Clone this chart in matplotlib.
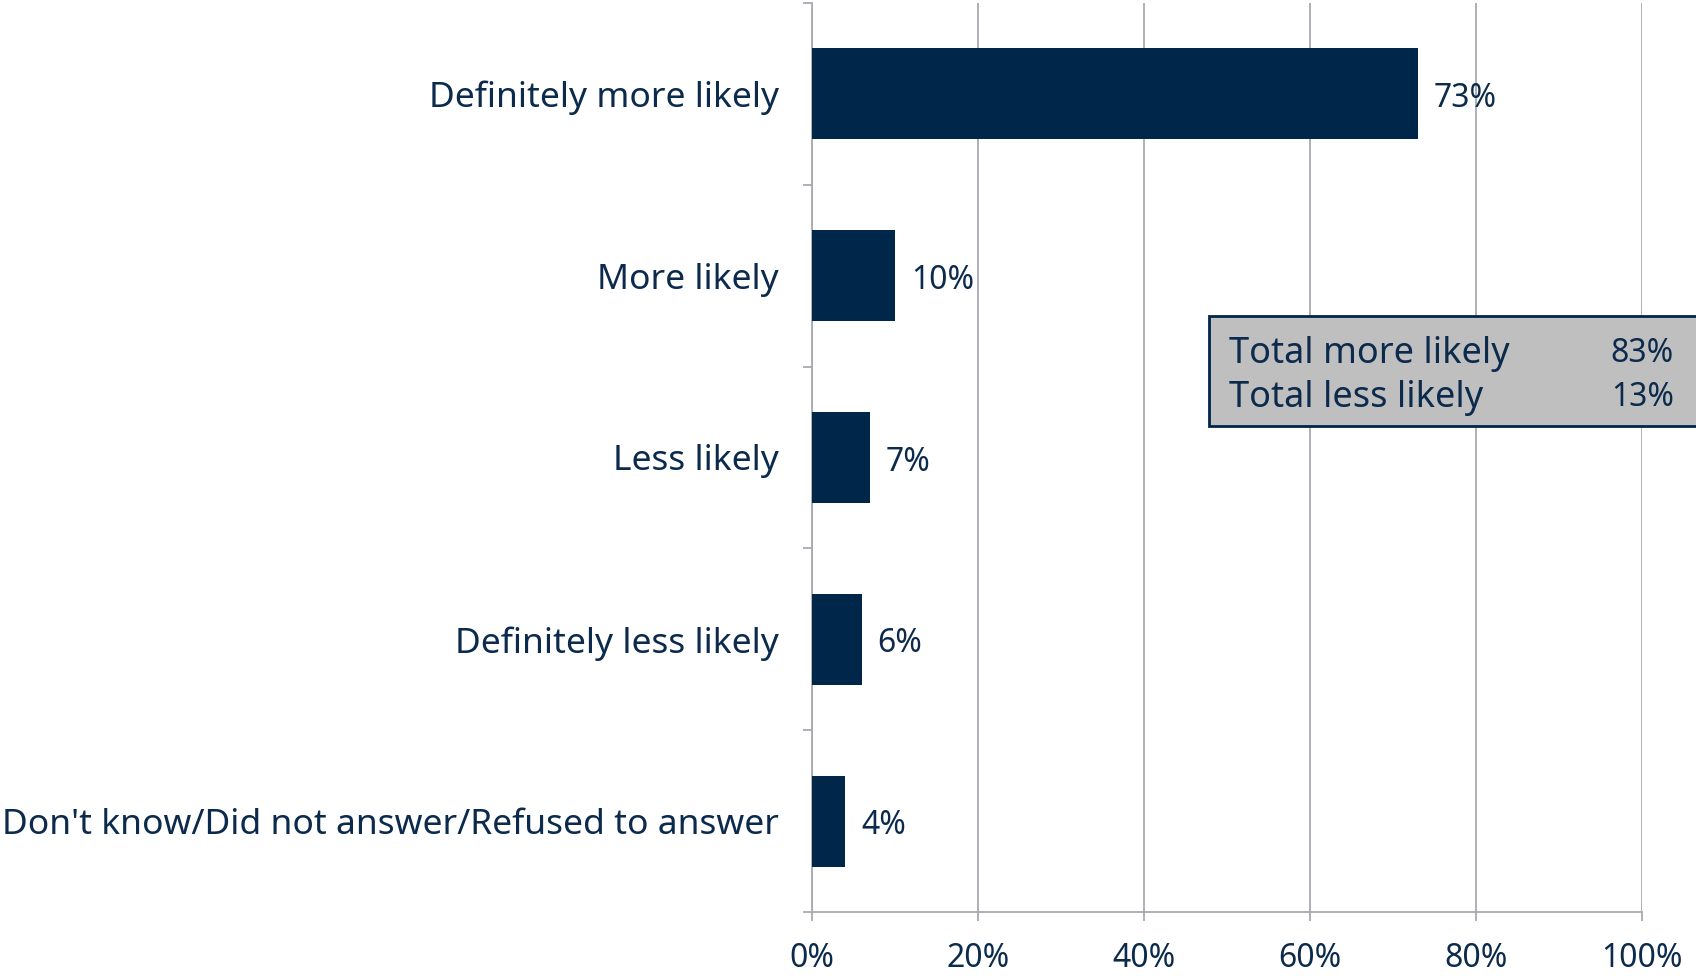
import matplotlib
matplotlib.use("Agg")
import matplotlib.pyplot as plt
from matplotlib.ticker import FixedLocator, PercentFormatter
from matplotlib.patches import Rectangle

categories = ["Definitely more likely", "More likely", "Less likely",
              "Definitely less likely", "Don't know/Did not answer/Refused to answer"]
values = [73, 10, 7, 6, 4]
xticks = [0, 20, 40, 60, 80, 100]
summary_labels = ["Total more likely", "Total less likely"]
summary_values = ["83%", "13%"]

NAVY = "#00264A"
TEXT = "#0B2A4C"
GRID = "#A9A9B0"

plt.rcParams['font.family'] = ['Noto Sans', 'DejaVu Sans']

fig = plt.figure(figsize=(16.96, 9.76), dpi=100)
ax = fig.add_axes([812/1696, 1-912/976, (1642-812)/1696, (912-3)/976])

y = list(range(len(categories)))
ax.barh(y, values, height=0.5, color=NAVY, zorder=3)
for yi, v in zip(y, values):
    ax.text(v + 1.9, yi + 0.025, f"{v}%", va="center", ha="left", fontsize=23, color=TEXT)

ax.set_xlim(0, 100)
ax.set_ylim(len(categories) - 0.5, -0.5)
ax.set_xticks(xticks)
ax.xaxis.set_major_formatter(PercentFormatter(decimals=0))
ax.grid(axis="x", color=GRID, linewidth=1.3, zorder=0)

ax.set_yticks(y)
ax.set_yticklabels(categories)
ax.yaxis.set_minor_locator(FixedLocator([i - 0.5 for i in range(len(categories) + 1)]))
ax.tick_params(axis="y", which="major", length=0, pad=24, labelsize=25.5, labelcolor=TEXT)
ax.tick_params(axis="y", which="minor", length=6.5, width=1.3, color=GRID)
ax.tick_params(axis="x", which="major", length=6.5, width=1.3, color=GRID, pad=15,
               labelsize=23, labelcolor=TEXT)

for s in ["top", "right"]:
    ax.spines[s].set_visible(False)
for s in ["left", "bottom"]:
    ax.spines[s].set_color(GRID)
    ax.spines[s].set_linewidth(1.3)

# summary box
bx0, by0, bx1, by1 = 1209, 316, 1700, 426
fig.patches.append(Rectangle((bx0/1696, 1-by1/976), (bx1-bx0)/1696, (by1-by0)/976,
                             transform=fig.transFigure, facecolor="#BFBFBF",
                             edgecolor=NAVY, linewidth=2, zorder=5))
for i, (lab, val) in enumerate(zip(summary_labels, summary_values)):
    yy = 1 - (354 + 44*i)/976
    fig.text(1229/1696, yy, lab, ha="left", va="center", fontsize=26, color=TEXT, zorder=6)
    fig.text(1674/1696, yy, val, ha="right", va="center", fontsize=23, color=TEXT, zorder=6)

fig.savefig("out.png", dpi=100)
